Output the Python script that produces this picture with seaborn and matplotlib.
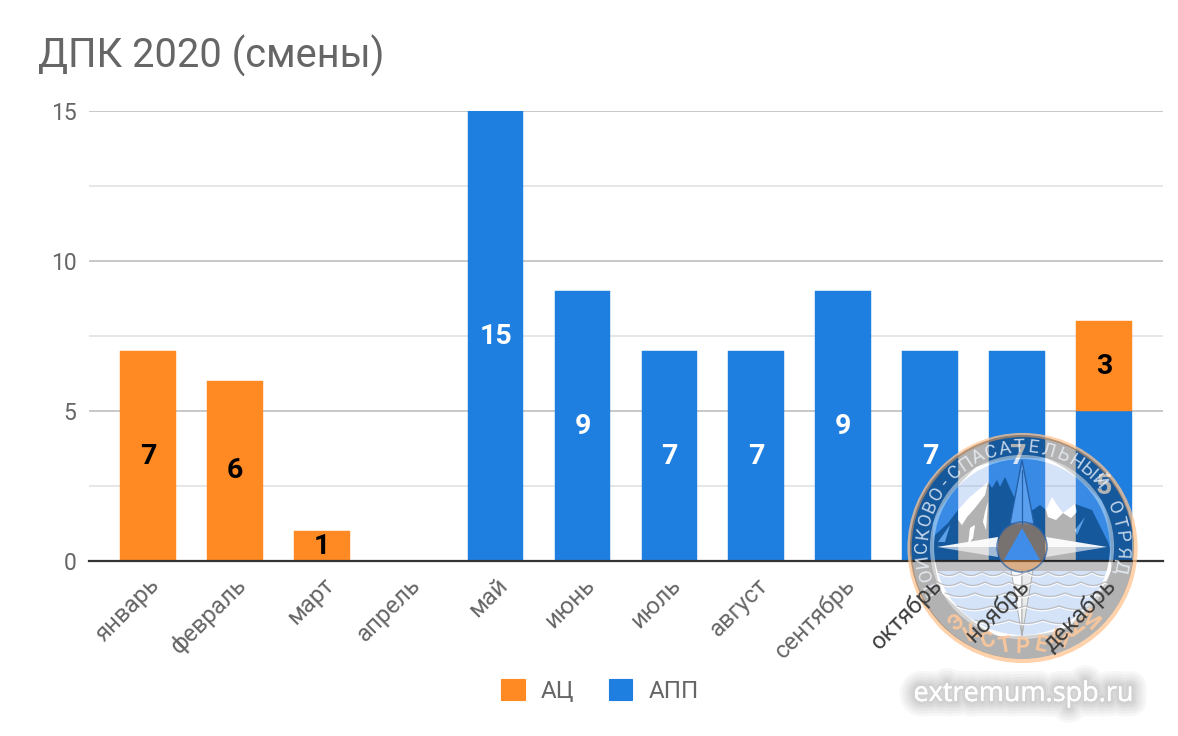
import numpy as np
import pandas as pd
import matplotlib
matplotlib.use("Agg")
import matplotlib.pyplot as plt
import matplotlib.patheffects as pe
from matplotlib.patches import Circle, Polygon, Patch, PathPatch
from matplotlib.path import Path
import seaborn as sns

months = ["январь", "февраль", "март", "апрель", "май", "июнь", "июль", "август",
          "сентябрь", "октябрь", "ноябрь", "декабрь"]
app_values = [0, 0, 0, 0, 15, 9, 7, 7, 9, 7, 7, 5]
ac_values = [7, 6, 1, 0, 0, 0, 0, 0, 0, 0, 0, 3]
y_ticks = [0, 5, 10, 15]
y_minor = [2.5, 7.5, 12.5]

ORANGE = "#ff8a24"
BLUE = "#1f7fe0"
GREY = "#666666"

sns.set_theme(style="white")
plt.rcParams["font.family"] = ["Roboto", "DejaVu Sans"]

df = pd.DataFrame({"month": months, "app": app_values, "ac": ac_values})

fig = plt.figure(figsize=(11.78, 7.36), dpi=100, facecolor="white")
ax_rect = [89 / 1178, 1 - 561 / 736, (1163 - 89) / 1178, (561 - 111) / 736]
ax = fig.add_axes(ax_rect)

# stacked bars, АПП at the bottom
sns.barplot(data=df, x="month", y="app", color=BLUE, saturation=1, width=0.64, ax=ax)
sns.barplot(data=df, x="month", y="ac", color=ORANGE, saturation=1, width=0.64,
            bottom=df["app"], ax=ax)
for p in ax.patches:
    if p.get_height() == 0:
        p.set_visible(False)
    p.set_edgecolor(p.get_facecolor())
    p.set_linewidth(0.3)

ax.set_xlim(-0.679, 11.68)
ax.set_ylim(0, 15)
ax.set_xlabel("")
ax.set_ylabel("")
ax.set_axisbelow(True)
ax.set_yticks(y_ticks)
ax.set_yticks(y_minor, minor=True)
ax.grid(axis="y", which="major", color="#c4c4c4", lw=1.3)
ax.grid(axis="y", which="minor", color="#e4e4e4", lw=1.3)
ax.tick_params(axis="y", which="both", length=0, pad=9, labelsize=16.5, labelcolor=GREY)
ax.tick_params(axis="x", length=0, pad=9, labelsize=17.2, labelcolor=GREY)
ax.set_xticks(range(len(months)))
# the last three month names sit on top of the emblem, see below
ax.set_xticklabels(months[:9] + [""] * 3, rotation=45, ha="right", rotation_mode="anchor")
sns.despine(ax=ax, left=True, top=True, right=True)
ax.spines["bottom"].set_color("#333333")
ax.spines["bottom"].set_linewidth(1.6)

for i, (a, c) in enumerate(zip(app_values, ac_values)):
    if a:
        ax.text(i, a / 2, str(a), color="white", fontsize=20.5, fontweight="bold",
                ha="center", va="center")
    if c:
        ax.text(i, a + c / 2, str(c), color="black", fontsize=20.5, fontweight="bold",
                ha="center", va="center")

fig.text(38 / 1178, 1 - 68 / 736, "ДПК 2020 (смены)", color=GREY, fontsize=28.7, ha="left")

handles = [Patch(fc=ORANGE, ec=ORANGE, lw=0.8, joinstyle="round", label="АЦ"),
           Patch(fc=BLUE, ec=BLUE, lw=0.8, joinstyle="round", label="АПП")]
fig.legend(handles=handles, loc="center", bbox_to_anchor=(600 / 1178, 1 - 691 / 736),
           ncol=2, frameon=False, fontsize=17.5, handlelength=0.95, handleheight=0.95,
           columnspacing=1.4, handletextpad=0.68, labelcolor=GREY)

# watermark emblem on top, drawn in pixel coordinates
wm = fig.add_axes([0, 0, 1, 1], zorder=10)
wm.set_xlim(0, 1178)
wm.set_ylim(736, 0)
wm.axis("off")
wm.patch.set_alpha(0)

cx, cy = 1022, 547
SKY = "#76a5ee"
wm.add_patch(Circle((cx + 0.5, cy + 1), 113, fc="none", ec="#ffc48f", lw=3, alpha=0.75))
# ring between the two radii
ring_path = Path.make_compound_path(Path.circle((cx, cy), 112),
                                    Path(Path.circle((cx, cy), 89).vertices[::-1],
                                         Path.circle((cx, cy), 89).codes))
wm.add_patch(PathPatch(ring_path, fc="black", ec="none", alpha=0.30))
wm.add_patch(Circle((cx, cy), 90, fc="none", ec="white", lw=3, alpha=0.45))
inner = Circle((cx, cy), 88, fc="none", ec="none")
wm.add_patch(inner)


def clipped(patch):
    wm.add_patch(patch)
    patch.set_clip_path(inner)
    return patch


def closed_path(points, hole=False):
    pts = np.array(points + [points[0]], dtype=float)
    area = np.sum(pts[:-1, 0] * pts[1:, 1] - pts[1:, 0] * pts[:-1, 1])
    if (area > 0) == hole:
        pts = pts[::-1]
    return Path(pts, [Path.MOVETO] + [Path.LINETO] * (len(pts) - 2) + [Path.CLOSEPOLY])


ridge = [(930, 561), (933, 537), (948, 523), (958, 510), (970, 497), (988, 482), (992, 488),
         (997, 480), (1000, 487), (1005, 477), (1013, 495), (1022, 508), (1033, 510),
         (1040, 505), (1046, 510), (1052, 497), (1057, 505), (1063, 513), (1075, 504),
         (1092, 510), (1108, 542), (1114, 561)]
snow = [[(958, 510), (970, 497), (988, 482), (985, 495), (975, 508), (967, 517), (962, 525), (958, 520)],
        [(1052, 497), (1057, 505), (1063, 513), (1056, 520), (1048, 517), (1046, 510)],
        [(1063, 513), (1075, 504), (1077, 512), (1071, 518)],
        [(985, 512), (988, 502), (986, 530), (983, 522)],
        [(970, 528), (975, 525), (973, 538), (968, 545)],
        [(938, 542), (950, 525), (945, 542)],
        [(1075, 530), (1085, 517), (1077, 535)]]

# sky above the ridge, water below the shore
clipped(Polygon([(925, 450), (1120, 450)] + ridge[::-1], fc=SKY, alpha=0.3, ec="none"))
clipped(Polygon([(925, 571), (1120, 571), (1120, 640), (925, 640)], fc=SKY, alpha=0.3, ec="none"))
clipped(Polygon([(925, 561), (1120, 561), (1120, 571), (925, 571)], fc="#30303a", alpha=0.3, ec="none"))

# mountains with the snow cut out
mountain_path = Path.make_compound_path(closed_path(ridge), *[closed_path(s, hole=True) for s in snow])
clipped(PathPatch(mountain_path, fc="black", ec="none", alpha=0.30))
for s in snow:
    clipped(Polygon(s, fc="white", ec="none", alpha=0.28))

# waves
wave_rows = [(572, 938, 1104, 22), (582, 937, 1107, 24), (593, 945, 1100, 30),
             (606, 957, 1088, 34), (620, 975, 1070, 34)]
for yw, x0, x1, period in wave_rows:
    xw = np.linspace(x0, x1, 400)
    yl = yw + 3.5 * np.abs(np.sin((xw - x0) * np.pi / period))
    wm.plot(xw, yl + 1.2, color="white", lw=1.0, alpha=0.85)
    wm.plot(xw, yl, color="#b4b4b4", lw=0.9, alpha=0.8)

# compass star
for xe, xb in [(937, 998), (1107, 1046)]:
    wm.add_patch(Polygon([(xe, cy), (xb, cy - 10), (xb, cy)], fc="white", ec="none", alpha=0.95))
    wm.add_patch(Polygon([(xe, cy), (xb, cy + 10), (xb, cy)], fc="white", ec="none", alpha=0.6))
wm.add_patch(Polygon([(cx, 460), (cx - 12, 524), (cx + 12, 524)], fc="#5aa0ee", ec="#2560a8", lw=1))
wm.plot([cx, cx], [470, 524], color="#2560a8", lw=0.9)
wm.add_patch(Polygon([(cx, 636), (cx - 11, 570), (cx, 570)], fc="white", ec="#a8a8a8", lw=0.7, alpha=0.9))
wm.add_patch(Polygon([(cx, 636), (cx + 11, 570), (cx, 570)], fc="#ececec", ec="#a8a8a8", lw=0.7, alpha=0.9))
wm.add_patch(Circle((cx, cy), 25, fc="#ff9632", ec="none", alpha=0.42))
wm.add_patch(Circle((cx, cy), 25, fc="none", ec="#2560a8", lw=1.2, alpha=0.7))
wm.add_patch(Polygon([(cx, 528), (cx - 18, 560), (cx + 18, 560)], fc="#3f8de8", ec="none"))

# lettering along the ring
top_text = "ПОИСКОВО-СПАСАТЕЛЬНЫЙ ОТРЯД"
top_angles = np.interp(np.arange(len(top_text)), [0, 14, 27], [204, 92, -20])
for ch, ang in zip(top_text, top_angles):
    r = np.radians(ang)
    wm.text(cx + 100 * np.cos(r), cy - 100 * np.sin(r), ch, color="#eef4fc", alpha=0.8,
            fontsize=13.5, rotation=ang - 90, ha="center", va="center")
bottom_text = "ЭКСТРЕМУМ"
for ch, ang in zip(bottom_text, np.linspace(-41, 42, len(bottom_text))):
    r = np.radians(ang)
    wm.text(cx + 100 * np.sin(r), cy + 100 * np.cos(r), ch, color="#ffc89a", alpha=0.9,
            fontsize=15.5, fontweight="bold", rotation=-ang, ha="center", va="center")

site = wm.text(1024, 694, "extremum.spb.ru", color="white", fontsize=19.5,
               family=["Open Sans", "DejaVu Sans"], ha="center", va="center")
site.set_path_effects([pe.withStroke(linewidth=w, foreground="black", alpha=0.03)
                       for w in (22, 18, 14, 10, 7, 4)] + [pe.Normal()])

# month names that show through the emblem
top = fig.add_axes(ax_rect, zorder=20)
top.patch.set_alpha(0)
top.set_yticks([])
for side in top.spines.values():
    side.set_visible(False)
top.tick_params(axis="x", length=0, pad=9, labelsize=17.2, labelcolor="#3d3d3d")
top.set_xticks(range(len(months)))
top.set_xticklabels([""] * 9 + months[9:], rotation=45, ha="right", rotation_mode="anchor")
top.set_xlim(-0.679, 11.68)

fig.savefig("out.png", dpi=100)
